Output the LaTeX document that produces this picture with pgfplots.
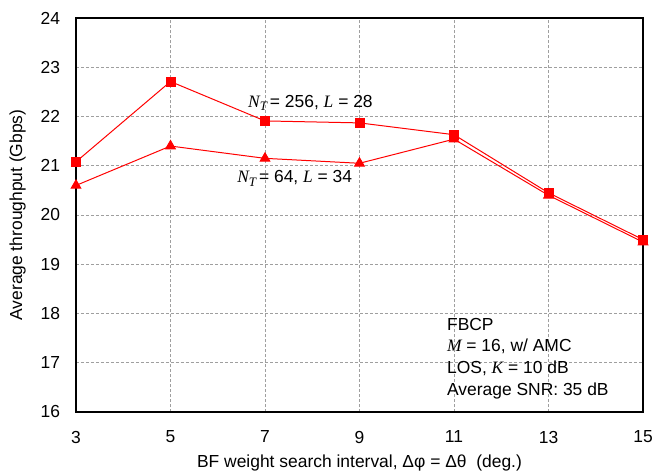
\documentclass[border=0pt]{standalone}
\usepackage{pgfplots}
\pgfplotsset{compat=1.18}
\usepackage{fontspec}
\setmainfont{Liberation Sans}
\newfontfamily\serif{Liberation Serif}
\newcommand{\vi}[1]{{\serif\itshape #1}}
\newcommand{\NT}{\vi{N}\raisebox{-0.35ex}{\fontsize{13}{14}\selectfont\vi{T}}}
\begin{document}
\fontsize{17.5}{21}\selectfont
\begin{tikzpicture}[x=1bp,y=1bp]
\begin{axis}[
  name=ax,
  scale only axis,
  width=567bp, height=394bp,
  xmin=3, xmax=15, ymin=16, ymax=24,
  xtick={3,5,...,15}, ytick={16,17,...,24},
  major tick length=0pt,
  grid=major,
  grid style={dash pattern=on 3pt off 2pt, gray!75, line width=0.7pt},
  axis line style={black, line width=1.2pt},
  /pgf/number format/assume math mode=true,
  ticklabel style={font=\fontsize{17.5}{21}\selectfont},
  label style={font=\fontsize{17.5}{21}\selectfont},
  xlabel={BF weight search interval, Δφ = Δθ \ (deg.)},
  ylabel={Average throughput (Gbps)},
  xticklabel style={yshift=-13bp},
  yticklabel style={xshift=-10bp},
  xlabel style={yshift=0bp},
  ylabel style={yshift=3bp},
  clip=false,
]
\addplot[red, line width=1.0pt, mark=square*, mark size=4.5bp, mark options={solid}] coordinates {
(3,21.08) (5,22.71) (7,21.91) (9,21.87) (11,21.63) (13,20.45) (15,19.50)};
\addplot[red, line width=1.0pt, mark=triangle*, mark size=5.5bp, mark options={solid}] coordinates {
(3,20.60) (5,21.40) (7,21.15) (9,21.05) (11,21.54) (13,20.40) (15,19.45)};
\node[anchor=base west, inner sep=0pt] at (axis cs:6.64,22.19) {\NT\,= 256, \vi{L} = 28};
\node[anchor=base west, inner sep=0pt] at (axis cs:6.41,20.65) {\NT\,= 64, \vi{L} = 34};
\node[anchor=base west, inner sep=0pt] at (axis cs:10.85,17.66) {FBCP};
\node[anchor=base west, inner sep=0pt] at (axis cs:10.85,17.22) {\vi{M} = 16, w/ AMC};
\node[anchor=base west, inner sep=0pt] at (axis cs:10.85,16.79) {LOS, \vi{K} = 10 dB};
\node[anchor=base west, inner sep=0pt] at (axis cs:10.85,16.34) {Average SNR: 35 dB};
\end{axis}
\pgfresetboundingbox
\path ([shift={(-76bp,-61bp)}]ax.south west) rectangle ([shift={(11bp,18bp)}]ax.north east);
\end{tikzpicture}
\end{document}
